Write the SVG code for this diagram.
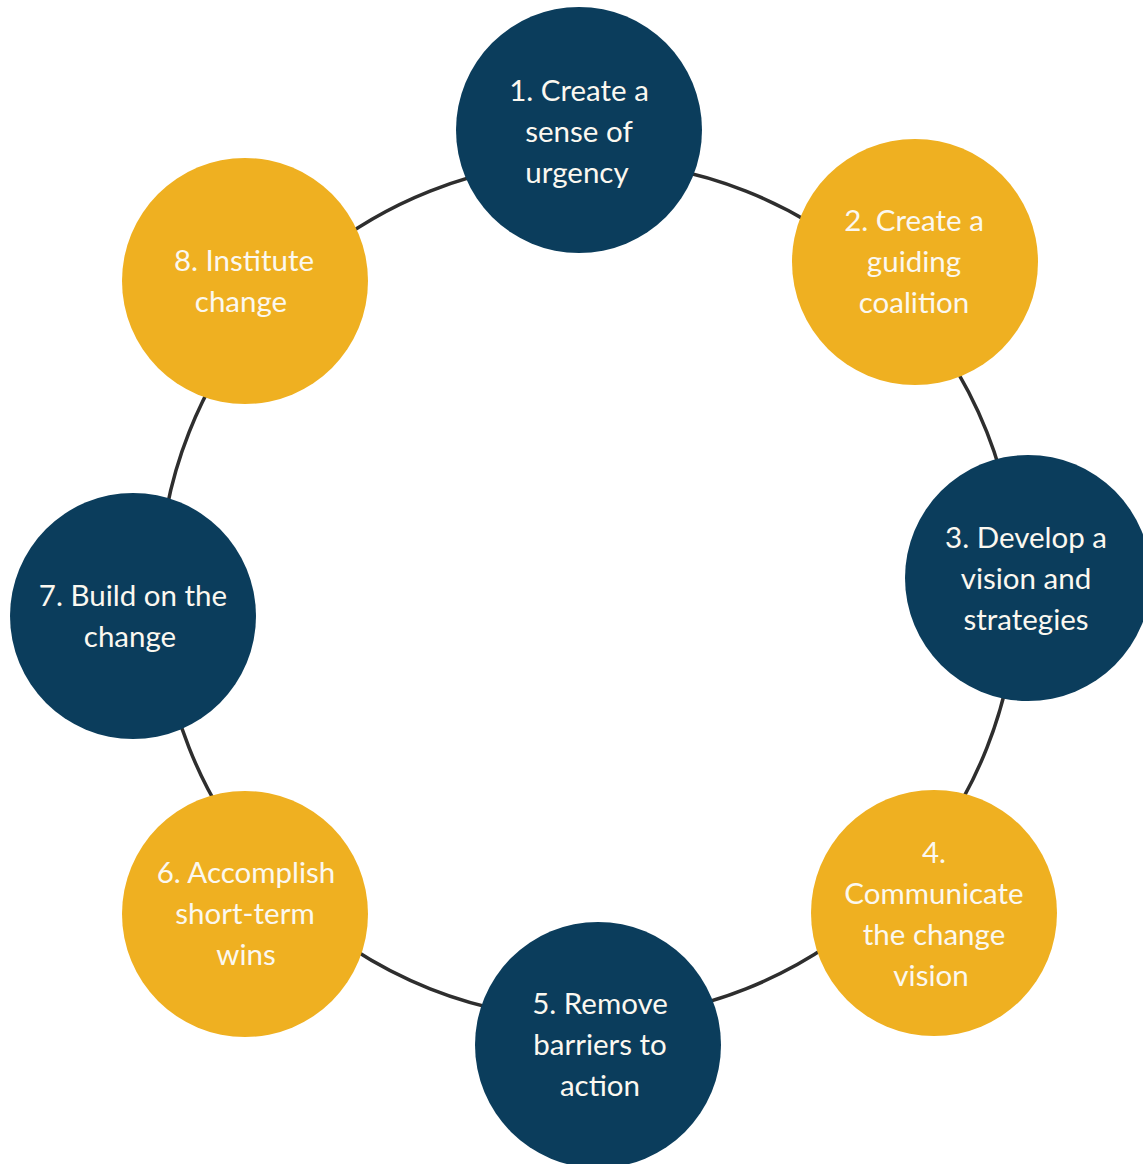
<svg xmlns="http://www.w3.org/2000/svg" width="1143" height="1164" viewBox="0 0 1143 1164">
<style>
.blue{fill:#0b3d5c}
.gold{fill:#efb021}
.lbl{font-family:Lato,"Open Sans","Liberation Sans",sans-serif;font-size:29.5px;fill:#fbf8f0;text-anchor:middle}
.ring{fill:none;stroke:#2e2e2e;stroke-width:3.5}
</style>
<rect width="1143" height="1164" fill="#ffffff"/>
<g id="connectors">
<circle class="ring" cx="588" cy="590" r="429"/>
</g>
<g id="node1"><circle class="blue" cx="579" cy="130" r="123"/>
<text class="lbl"><tspan x="579" y="101">1. Create a</tspan><tspan x="579" y="142">sense of</tspan><tspan x="577" y="183">urgency</tspan></text></g>
<g id="node2"><circle class="gold" cx="915" cy="262" r="123"/>
<text class="lbl"><tspan x="914" y="231">2. Create a</tspan><tspan x="914" y="272">guiding</tspan><tspan x="914" y="313">coalition</tspan></text></g>
<g id="node3"><circle class="blue" cx="1028" cy="578" r="123"/>
<text class="lbl"><tspan x="1026" y="548">3. Develop a</tspan><tspan x="1026" y="589">vision and</tspan><tspan x="1026" y="630">strategies</tspan></text></g>
<g id="node4"><circle class="gold" cx="934" cy="913" r="123"/>
<text class="lbl"><tspan x="934" y="863">4.</tspan><tspan x="934" y="904">Communicate</tspan><tspan x="934" y="945">the change</tspan><tspan x="931" y="986">vision</tspan></text></g>
<g id="node5"><circle class="blue" cx="598" cy="1045" r="123"/>
<text class="lbl"><tspan x="600" y="1014">5. Remove</tspan><tspan x="600" y="1055">barriers to</tspan><tspan x="600" y="1096">action</tspan></text></g>
<g id="node6"><circle class="gold" cx="245" cy="914" r="123"/>
<text class="lbl"><tspan x="246" y="883">6. Accomplish</tspan><tspan x="245" y="924">short-term</tspan><tspan x="246" y="965">wins</tspan></text></g>
<g id="node7"><circle class="blue" cx="133" cy="616" r="123"/>
<text class="lbl"><tspan x="133" y="606">7. Build on the</tspan><tspan x="130" y="647">change</tspan></text></g>
<g id="node8"><circle class="gold" cx="245" cy="281" r="123"/>
<text class="lbl"><tspan x="244" y="271">8. Institute</tspan><tspan x="241" y="312">change</tspan></text></g>
</svg>
